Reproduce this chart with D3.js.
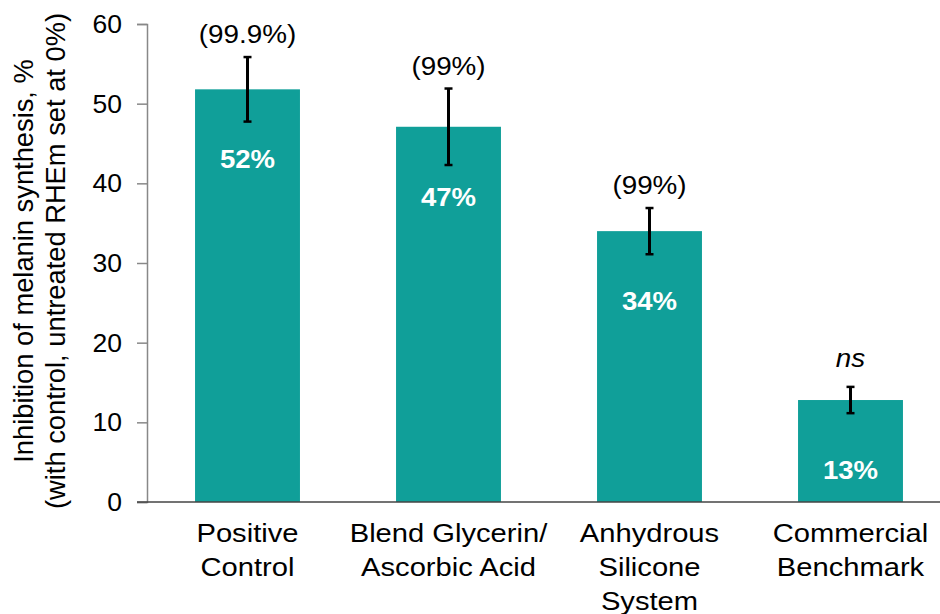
<!DOCTYPE html>
<html>
<head>
<meta charset="utf-8">
<script src="https://cdn.jsdelivr.net/npm/d3@7"></script>
<style>
  html, body { margin: 0; padding: 0; background: #fff; overflow: hidden; }
  svg text { font-family: "Liberation Sans", Arial, sans-serif; }
</style>
</head>
<body>
<svg id="chart" width="940" height="614"></svg>
<script>
// Melanin synthesis inhibition per treatment
const categories = [
  ["Positive", "Control"],
  ["Blend Glycerin/", "Ascorbic Acid"],
  ["Anhydrous", "Silicone", "System"],
  ["Commercial", "Benchmark"]
];
const values = [51.8, 47.1, 34.0, 12.8];
const valueLabels = ["52%", "47%", "34%", "13%"];
const errors = [4.05, 4.8, 2.9, 1.65];
const significance = ["(99.9%)", "(99%)", "(99%)", "ns"];
const yTicks = [0, 10, 20, 30, 40, 50, 60];

const FONT = 26.5;
const svg = d3.select("#chart");
const margin = { left: 147, top: 24, bottom: 112 };
const height = 614;

const x = d3.scaleBand()
  .domain(d3.range(categories.length))
  .range([margin.left, margin.left + 804])
  .paddingInner(0.478)
  .paddingOuter(0.239);

const y = d3.scaleLinear()
  .domain([0, 60])
  .range([height - margin.bottom, margin.top]);

// Y axis
const yAxis = svg.append("g")
  .attr("transform", `translate(${margin.left},0)`)
  .call(d3.axisLeft(y).tickValues(yTicks).tickSize(10).tickPadding(15));
yAxis.select(".domain").attr("stroke", "#888").attr("stroke-width", 1.5);
yAxis.selectAll(".tick line").attr("stroke", "#888").attr("stroke-width", 1.5);
yAxis.selectAll(".tick text")
  .attr("font-size", FONT)
  .attr("fill", "#000")
  .style("font-family", "Liberation Sans, Arial, sans-serif");

// Bars
svg.append("g").selectAll("rect")
  .data(values)
  .join("rect")
  .attr("x", (d, i) => x(i))
  .attr("width", x.bandwidth())
  .attr("y", d => y(d))
  .attr("height", d => y(0) - y(d))
  .attr("fill", "#109f99");

// X axis baseline
svg.append("line")
  .attr("x1", margin.left - 10)
  .attr("x2", 940)
  .attr("y1", y(0))
  .attr("y2", y(0))
  .attr("stroke", "#444")
  .attr("stroke-width", 1.5);

// Error bars
const eb = svg.append("g").attr("stroke", "#000").attr("stroke-width", 3);
values.forEach((v, i) => {
  const cx = x(i) + x.bandwidth() / 2;
  const hi = y(v + errors[i]), lo = y(v - errors[i]);
  eb.append("line").attr("x1", cx).attr("x2", cx).attr("y1", hi).attr("y2", lo);
  eb.append("line").attr("x1", cx - 4).attr("x2", cx + 4).attr("y1", hi).attr("y2", hi).attr("stroke-width", 2.5);
  eb.append("line").attr("x1", cx - 4).attr("x2", cx + 4).attr("y1", lo).attr("y2", lo).attr("stroke-width", 2.5);
});

// Value labels inside bars
svg.append("g").selectAll("text")
  .data(values)
  .join("text")
  .attr("transform", (d, i) => `translate(${x(i) + x.bandwidth() / 2},${y(d) + 79}) scale(1.04,1)`)
  .attr("text-anchor", "middle")
  .attr("font-size", FONT)
  .attr("font-weight", "bold")
  .attr("fill", "#fff")
  .text((d, i) => valueLabels[i]);

// Significance annotations above error bars
svg.append("g").selectAll("text")
  .data(values)
  .join("text")
  .attr("transform", (d, i) =>
    `translate(${x(i) + x.bandwidth() / 2},${y(d + errors[i]) - (significance[i] === "ns" ? 20 : 14)}) scale(1.05,1)`)
  .attr("text-anchor", "middle")
  .attr("font-size", FONT)
  .attr("font-style", (d, i) => significance[i] === "ns" ? "italic" : "normal")
  .attr("fill", "#000")
  .text((d, i) => significance[i]);

// Category labels
const cat = svg.append("g");
categories.forEach((lines, i) => {
  const t = cat.append("text")
    .attr("transform", `translate(${x(i) + x.bandwidth() / 2},542) scale(1.1,1)`)
    .attr("text-anchor", "middle")
    .attr("font-size", FONT)
    .attr("fill", "#000");
  lines.forEach((ln, j) => {
    t.append("tspan")
      .attr("x", 0)
      .attr("dy", j === 0 ? 0 : 34)
      .text(ln);
  });
});

// Y axis title
const title = svg.append("text")
  .attr("transform", `translate(33, ${(y(0) + y(60)) / 2 - 2}) rotate(-90)`)
  .attr("text-anchor", "middle")
  .attr("font-size", 27.3)
  .attr("fill", "#000");
title.append("tspan").attr("x", 0).attr("dy", 0).text("Inhibition of melanin synthesis, %");
title.append("tspan").attr("x", 0).attr("dy", 32).text("(with control, untreated RHEm set at 0%)");
</script>
</body>
</html>
